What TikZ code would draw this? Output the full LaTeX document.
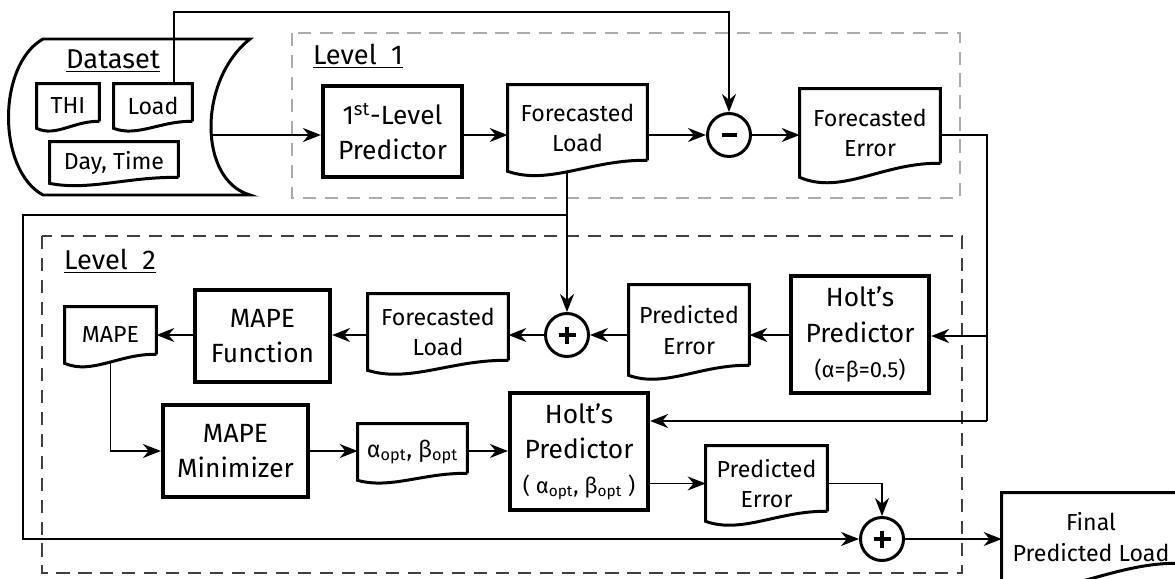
\documentclass[tikz,border=0pt]{standalone}
\usepackage{fontspec}
\setmainfont{Fira Sans}
\usetikzlibrary{calc,positioning,arrows.meta}

\newcommand{\boxfont}{\fontsize{15}{20}\selectfont}
\newcommand{\docfont}{\fontsize{13.2}{17.5}\selectfont}
\newcommand{\labfont}{\fontsize{15.5}{18}\selectfont}

\tikzset{
  arr/.style={-{Stealth[length=0.36cm,width=0.28cm]}, line width=1.1pt},
  conn/.style={line width=1.1pt},
  procbox/.style={draw, line width=2.4pt, align=center, inner sep=0pt, font=\boxfont},
  docbox/.style={align=center, inner sep=0pt, font=\docfont},
  docline/.style={line width=1.7pt},
  sumnode/.style={draw, circle, line width=1.7pt, minimum size=0.86cm, inner sep=0pt},
  plussign/.style={path picture={\draw[line width=1.8pt] (path picture bounding box.center) ++(-0.17cm,0) -- ++(0.34cm,0);
    \draw[line width=1.8pt] (path picture bounding box.center) ++(0,-0.17cm) -- ++(0,0.34cm);}},
  minussign/.style={path picture={\draw[line width=1.8pt] (path picture bounding box.center) ++(-0.15cm,0) -- ++(0.30cm,0);}},
  levelbox/.style={dash pattern=on 7.5pt off 5pt, line width=1.1pt},
}

\begin{document}
\begin{tikzpicture}[x=0.02cm,y=-0.02cm]
\clip (0,0) rectangle (1175,578);

% dataset
\draw[docline] (43,39) -- (250,39) .. controls (198,80) and (198,180) .. (250,195) -- (43,195) .. controls (-3,170) and (-3,65) .. (43,39) -- cycle;
\node[font=\labfont] (dslabel) at (113,61) {\underline{Dataset}};
\node[docbox, minimum width=1.24cm, minimum height=0.88cm] (thi) at (68,106) {THI};
\node[docbox, minimum width=1.56cm, minimum height=0.88cm] (load) at (153,106) {Load};
\node[docbox, minimum width=2.56cm, minimum height=0.82cm] (daytime) at (114,162.5) {Day, Time};
\coordinate (dsout) at (212,135);
\coordinate (tap) at (174,12);

% level 1
\draw[levelbox, gray!65] (292,33) rectangle (960,198);
\node[font=\labfont] (lev1) at (358,56) {\underline{Level\ \ 1}};
\node[procbox, minimum width=2.78cm, minimum height=1.82cm] (pred1) at (392.5,131.5) {1\textsuperscript{st}-Level\\Predictor};
\node[docbox, minimum width=2.78cm, minimum height=1.72cm] (fl1) at (577.5,128) {Forecasted\\Load};
\node[sumnode, minussign] (minus) at (729,135) {};
\node[docbox, minimum width=2.8cm, minimum height=1.76cm] (fe) at (870,133) {Forecasted\\Error};

% level 2
\draw[levelbox, black!75] (42,236) rectangle (962,573);
\node[font=\labfont] (lev2) at (110,261) {\underline{Level\ \ 2}};
\node[docbox, minimum width=1.82cm, minimum height=1.12cm] (mape) at (110.5,335) {MAPE};
\node[procbox, minimum width=2.7cm, minimum height=1.84cm] (mapef) at (262.5,336) {MAPE\\Function};
\node[docbox, minimum width=2.8cm, minimum height=1.52cm] (fl2) at (438,332) {Forecasted\\Load};
\node[sumnode, plussign] (plus1) at (567,335) {};
\node[docbox, minimum width=2.4cm, minimum height=1.8cm] (pe1) at (689,330) {Predicted\\Error};
\node[procbox, minimum width=2.76cm, minimum height=2.34cm] (holt1) at (860,334.5) {Holt’s\\Predictor\\{\fontsize{12.5}{16}\selectfont(α=β=0.5)}};
\node[procbox, minimum width=2.9cm, minimum height=1.84cm] (minim) at (235.5,451) {MAPE\\Minimizer};
\node[docbox, minimum width=2.18cm, minimum height=1.12cm] (opt) at (412.5,452) {α\textsubscript{opt}, β\textsubscript{opt}};
\node[procbox, minimum width=2.76cm, minimum height=2.34cm] (holt2) at (579,451.5) {Holt’s\\Predictor\\{\fontsize{12.5}{16}\selectfont( α\textsubscript{opt}, β\textsubscript{opt} )}};
\node[docbox, minimum width=2.42cm, minimum height=1.5cm] (pe2) at (766.5,483.5) {Predicted\\Error};
\node[sumnode, plussign] (plus2) at (882,539) {};
\node[docbox, minimum width=3.56cm, minimum height=1.76cm] (final) at (1091,537) {Final\\Predicted Load};

% document outlines
\foreach \n/\d in {thi/7,load/7,daytime/6,fl1/11,fe/14,mape/9,fl2/10,pe1/10,opt/7,pe2/10,final/18}
  \draw[docline] ($(\n.south east)+(0,-\d)$) -- (\n.north east) -- (\n.north west) -- (\n.south west)
    .. controls ($(\n.south west)!0.3!(\n.south east)+(0,1.3*\d)$) and ($(\n.south west)!0.6!(\n.south east)+(0,-1.1*\d)$) .. ($(\n.south east)+(0,-\d)$);

% connectors
\coordinate (fb1) at (987,336);
\coordinate (fb2) at (987,421);
\coordinate (jn) at (567,215);
\coordinate (lc) at (23,539);
\draw[arr] (tap |- load.north) -- (tap) -| (minus.north);
\draw[arr] (dsout) -- (pred1.west |- dsout);
\draw[arr] (pred1.east |- minus) -- (fl1.west |- minus);
\draw[arr] (fl1.east |- minus) -- (minus.west);
\draw[arr] (minus.east) -- (fe.west |- minus);
\draw[conn] (fe.east |- minus) -| (fb2);
\draw[arr] (fb1) -- (fb1 -| holt1.east);
\draw[arr] (fb2) -- (fb2 -| holt2.east);
\draw[arr] (plus1 |- fl1.south) -- (plus1.north);
\draw[arr] (jn) -| (lc) -- (plus2.west);
\draw[arr] (holt1.west |- plus1) -- (pe1.east |- plus1);
\draw[arr] (pe1.west |- plus1) -- (plus1.east);
\draw[arr] (plus1.west) -- (fl2.east |- plus1);
\draw[arr] (fl2.west |- plus1) -- (mapef.east |- plus1);
\draw[arr] (mapef.west |- plus1) -- (mape.east |- plus1);
\draw[arr] (mape.south) |- (minim.west);
\draw[arr] (minim.east) -- (opt.west |- minim);
\draw[arr] (opt.east |- minim) -- (holt2.west |- minim);
\draw[arr] (holt2.east |- pe2.west) -- (pe2.west);
\draw[arr] (pe2.east) -| (plus2.north);
\draw[arr] (plus2.east) -- (final.west |- plus2);
\end{tikzpicture}
\end{document}
